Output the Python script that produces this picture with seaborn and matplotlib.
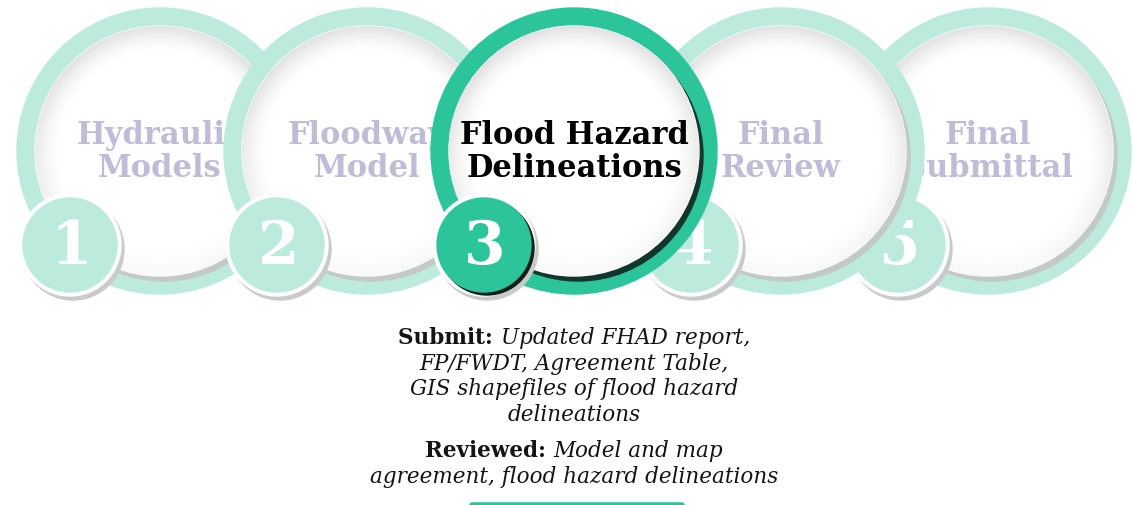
import numpy as np
import matplotlib.pyplot as plt
import seaborn as sns
from matplotlib.patches import Circle
from matplotlib.colors import LinearSegmentedColormap

# step data
step_numbers = ["1", "2", "3", "4", "5"]
step_labels = ["Hydraulic\nModels", "Floodway\nModel", "Flood Hazard\nDelineations",
               "Final\nReview", "Final\nSubmittal"]
active_step = 2  # index of "Flood Hazard Delineations"

submit_head = "Submit:"
submit_lines = ["Updated FHAD report,", "FP/FWDT, Agreement Table,",
                "GIS shapefiles of flood hazard", "delineations"]
reviewed_head = "Reviewed:"
reviewed_lines = ["Model and map", "agreement, flood hazard delineations"]

sns.set_theme(style="white")
plt.rcParams['font.family'] = ['DejaVu Serif', 'DejaVu Sans']

W, H = 1133, 506
fig = plt.figure(figsize=(W / 100, H / 100), dpi=100)
ax = fig.add_axes([0, 0, 1, 1])
ax.set_xlim(0, W)
ax.set_ylim(H, 0)
ax.axis("off")

light = "#bcebdd"
green = "#2cc59b"
label_col = "#bfbcd8"
txt_col = "#141414"
R_out, R_in = 143, 125
x0, dx, cy = 160, 207, 152

# soft gradient for the white discs (grey only near the upper rim)
g = np.linspace(-1, 1, 200)
gx, gy = np.meshgrid(g, g)
rr = np.sqrt(gx ** 2 + gy ** 2)
shade = np.clip((rr - 0.8) / 0.2, 0, 1) ** 1.5 * np.clip(0.7 - 0.5 * gy, 0, 1)
disc_cmap = LinearSegmentedColormap.from_list("disc", ["#ffffff", "#e2e2e2"])


def draw_step(i, z):
    cx = x0 + i * dx
    act = i == active_step
    ring = green if act else light
    ax.add_patch(Circle((cx, cy), R_out, color=ring, zorder=z))
    # shadow crescent
    ax.add_patch(Circle((cx + 4, cy + 5), R_in, color="#13362c" if act else "#c3c9c6", zorder=z + 1))
    disc = Circle((cx, cy), R_in, color="white", zorder=z + 2)
    ax.add_patch(disc)
    im = ax.imshow(shade, cmap=disc_cmap, vmin=0, vmax=1,
                   extent=(cx - R_in, cx + R_in, cy - R_in, cy + R_in),
                   origin="lower", zorder=z + 3, interpolation="bilinear")
    im.set_clip_path(disc)
    ax.text(cx, cy, step_labels[i], ha="center", va="center",
            fontsize=22, fontweight="bold", linespacing=1.1,
            color="black" if act else label_col, zorder=z + 4)
    # number badge
    bx, by = cx - 90, cy + 94
    ax.add_patch(Circle((bx + 3, by + 4), 51, color="#c9cbca", zorder=z + 5))
    ax.add_patch(Circle((bx, by), 51, color="white", zorder=z + 6))
    if act:
        ax.add_patch(Circle((bx + 3, by + 3), 47, color="#0d1f19", zorder=z + 7))
    ax.add_patch(Circle((bx, by), 47, color=green if act else light, zorder=z + 8))
    ax.text(bx + 1, by + 1, step_numbers[i], ha="center", va="center",
            fontsize=43, fontweight="bold", color="white", zorder=z + 9)


for k, i in enumerate([0, 1, 4, 3, 2]):
    draw_step(i, 10 * (k + 1))

# description text under the active step
tx = x0 + active_step * dx
fig.canvas.draw()
rend = fig.canvas.get_renderer()
fs = 15.5


def mixed_line(y, head, rest):
    t1 = ax.text(0, y, head + " ", fontsize=fs, fontweight="bold", va="center",
                 color=txt_col, zorder=100)
    t2 = ax.text(0, y, rest, fontsize=fs, style="italic", va="center",
                 color=txt_col, zorder=100)
    w1 = t1.get_window_extent(rend).width
    w2 = t2.get_window_extent(rend).width
    left = tx - (w1 + w2) / 2
    t1.set_x(left)
    t2.set_x(left + w1)


def plain_line(y, s):
    ax.text(tx, y, s, fontsize=fs, style="italic", ha="center", va="center",
            color=txt_col, zorder=100)


mixed_line(338, submit_head, submit_lines[0])
for j, s in enumerate(submit_lines[1:]):
    plain_line(364 + 25.5 * j, s)
mixed_line(451, reviewed_head, reviewed_lines[0])
plain_line(477, reviewed_lines[1])

# top edge of the button below
ax.plot([472, 682], [505.5, 505.5], color=green, lw=4, solid_capstyle="round", zorder=100)

fig.savefig("out.png", dpi=100)
